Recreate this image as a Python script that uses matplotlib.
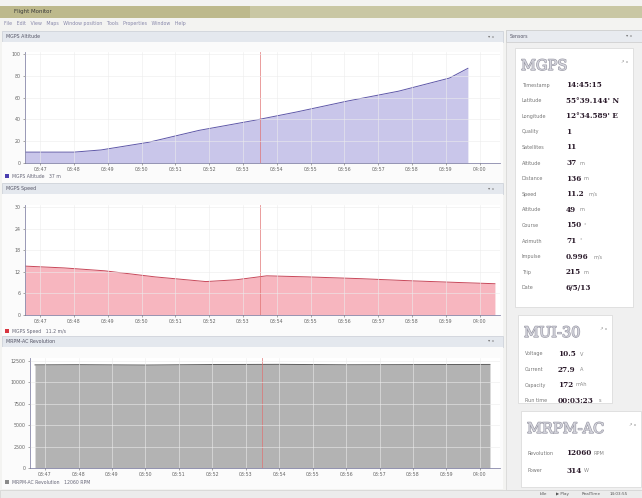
import matplotlib
matplotlib.use("Agg")
import matplotlib.pyplot as plt
from matplotlib.patches import Rectangle
import matplotlib.patheffects as pe

W, H = 642, 498

# ---- data ----
time_labels = ["03:47", "03:48", "03:49", "03:50", "03:51", "03:52", "03:53",
               "03:54", "03:55", "03:56", "03:57", "03:58", "03:59", "04:00"]
cursor_t = 6.5

alt_t = [-0.45, 1.0, 1.8, 3.2, 4.7, 6.3, 7.6, 9.1, 10.6, 12.1, 12.65]
alt_v = [10, 10, 12, 19, 30, 39, 47, 57, 66, 78, 87]
alt_ticks = [0, 20, 40, 60, 80, 100]

speed_t = [-0.45, 0.7, 1.9, 3.4, 4.9, 5.8, 6.7, 7.9, 9.5, 11.0, 12.5, 13.45]
speed_v = [13.6, 13.1, 12.3, 10.6, 9.3, 9.8, 10.9, 10.6, 10.1, 9.5, 9.0, 8.7]
speed_ticks = [0, 6, 12, 18, 24, 30]

rev_t = [-0.3, 1.0, 3.0, 5.0, 7.0, 9.0, 11.0, 13.3]
rev_v = [12000, 12020, 11980, 12040, 12060, 12010, 12030, 12050]
rev_ticks = [0, 2500, 5000, 7500, 10000, 12500]

gps_rows = [("Timestamp", "14:45:15", ""), ("Latitude", "55°39.144' N", ""),
            ("Longitude", "12°34.589' E", ""), ("Quality", "1", ""),
            ("Satellites", "11", ""), ("Altitude", "37", "m"),
            ("Distance", "136", "m"), ("Speed", "11.2", "m/s"),
            ("Altitude", "49", "m"), ("Course", "150", "°"),
            ("Azimuth", "71", "°"), ("Impulse", "0.996", "m/s"),
            ("Trip", "215", "m"), ("Date", "6/5/13", "")]
mui_rows = [("Voltage", "10.5", "V"), ("Current", "27.9", "A"),
            ("Capacity", "172", "mAh"), ("Run time", "00:03:23", "s")]
rpm_rows = [("Revolution", "12060", "RPM"), ("Power", "314", "W")]


def fx(x):
    return x / W


def fy(y):
    return 1 - y / H


def box(x0, y0, x1, y1, fc, ec="none", lw=0.6):
    fig.add_artist(Rectangle((fx(x0), fy(y1)), fx(x1 - x0), (y1 - y0) / H,
                             transform=fig.transFigure, fc=fc, ec=ec, lw=lw,
                             zorder=-5))


def label(x, y, s, size=3.6, color="#6a6a6a", **kw):
    fig.text(fx(x), fy(y), s, fontsize=size, color=color, va="center", **kw)


fig = plt.figure(figsize=(W / 100, H / 100), dpi=100)
fig.patch.set_facecolor("#f3f3f1")

# window title + menu
box(0, 6, 642, 18, "#c9c7a4")
box(0, 6, 250, 18, "#bdb98c")
label(14, 12, "Flight Monitor", size=4, color="#3a3a3a")
label(4, 24, "File   Edit   View   Maps   Window position   Tools   Properties   Window   Help",
      size=3.4, color="#8888aa")

# chart panels
panels = [
    (32, "MGPS Altitude", 52, 163, alt_t, alt_v, alt_ticks, 102,
     "#c9c6ea", "#5e57a8", "#4b3fb0", "MGPS Altitude   37 m", 176, 25),
    (184, "MGPS Speed", 205, 315, speed_t, speed_v, speed_ticks, 30.6,
     "#f7b6bf", "#c8485a", "#d8353f", "MGPS Speed   11.2 m/s", 331, 25),
    (337, "MRPM-AC Revolution", 358, 468, rev_t, rev_v, rev_ticks, 12800,
     "#b3b3b3", "#5c5c5c", "#8a8a8a", "MRPM-AC Revolution   12060 RPM", 482, 30),
]

for (hy, title, top, bot, t, v, ticks, ymax, fill, line, sw,
     leg, legy, left) in panels:
    box(2, hy - 1, 503, hy + 10, "#e4e8ee", ec="#cfd3da")
    label(6, hy + 4.5, title, size=3.4, color="#555566")
    label(488, hy + 4.5, "▾ x", size=3.2, color="#777777")
    box(2, hy + 10, 503, legy + 7, "#fbfbfb")

    ax = fig.add_axes([fx(left), fy(bot), fx(500 - left), (bot - top) / H])
    ax.set_facecolor("white")
    ax.fill_between(t, v, 0, color=fill, lw=0)
    ax.plot(t, v, color=line, lw=0.7)
    ax.axvline(cursor_t, color="#e07070", lw=0.6, alpha=0.8)
    ax.set_xlim(-0.45, 13.6)
    ax.set_ylim(0, ymax)
    ax.set_xticks(range(len(time_labels)))
    ax.set_xticklabels(time_labels)
    ax.set_yticks(ticks)
    ax.tick_params(labelsize=3.4, colors="#666666", length=1.5, width=0.4, pad=1.5)
    ax.grid(True, color="#ececec", lw=0.4)
    ax.set_axisbelow(False)
    for s in ["top", "right"]:
        ax.spines[s].set_visible(False)
    for s in ["left", "bottom"]:
        ax.spines[s].set_color("#8888aa")
        ax.spines[s].set_linewidth(0.6)

    box(5, legy - 2, 9, legy + 2, sw)
    label(12, legy, leg, size=3.3, color="#666677")

# sensors side panel
box(506, 30, 642, 490, "#f0f0f0", ec="#d8d8d8")
box(506, 30, 642, 42, "#e8ebf0", ec="#d0d0d0")
label(510, 36, "Sensors", size=3.4, color="#555566")
label(626, 36, "▾ x", size=3.2, color="#777777")

emboss = [pe.withStroke(linewidth=0.9, foreground="#9a9aa6")]


def sensor_box(x0, y0, x1, y1, name, rows, row_y0, dy, vx):
    box(x0, y0, x1, y1, "white", ec="#dcdcdc")
    fig.text(fx(x0 + 6), fy(y0 + 18), name, fontsize=10.5, color="#d4d4dc",
             family="DejaVu Serif", va="center", path_effects=emboss)
    label(x1 - 12, y0 + 14, "↗ x", size=3, color="#888888")
    for i, (k, val, unit) in enumerate(rows):
        yy = row_y0 + i * dy
        label(x0 + 7, yy, k, size=3.5, color="#777777")
        fig.text(fx(vx), fy(yy), val, fontsize=5.2, color="#2a1a2a",
                 family="DejaVu Serif", weight="bold", va="center")
        if unit:
            label(vx + 4 + 4.6 * len(val), yy, unit, size=3.6, color="#888888")


sensor_box(515, 48, 633, 307, "MGPS", gps_rows, 85, 15.6, 566)
sensor_box(518, 315, 612, 403, "MUI-30", mui_rows, 354, 15.5, 558)
sensor_box(521, 411, 641, 487, "MRPM-AC", rpm_rows, 453, 17.5, 566)

# status bar
box(0, 490, 642, 498, "#ececec", ec="#d6d6d6")
label(540, 494, "Idle", size=3, color="#555555")
label(556, 494, "▶ Play", size=3, color="#555555")
label(582, 494, "RealTime", size=3, color="#555555")
label(610, 494, "14:03:55", size=3, color="#555555")

fig.savefig("out.png", dpi=100, facecolor=fig.get_facecolor())
